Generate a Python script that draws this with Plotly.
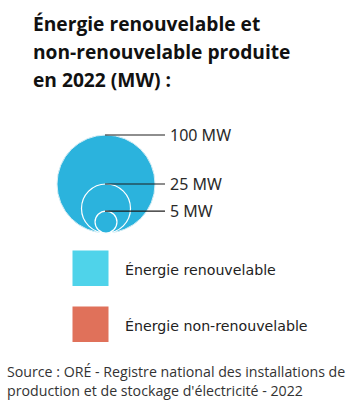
import math
import plotly.graph_objects as go

# Size legend: reference capacities (MW)
size_values = [100, 25, 5]
size_labels = ["100 MW", "25 MW", "5 MW"]

# Colour legend
legend_names = ["Énergie renouvelable", "Énergie non-renouvelable"]
legend_colors = ["#4FD3EA", "#E0715A"]

title_lines = [
    "Énergie renouvelable et",
    "non-renouvelable produite",
    "en 2022 (MW) :",
]
source_lines = [
    "Source : ORÉ - Registre national des installations de",
    "production et de stockage d'électricité - 2022",
]

W, H = 353, 404
CIRCLE_COLOR = "#2BB3DD"
R_MAX = 49.0
CX, BOTTOM = 106.0, 233.0
LINE_END_X = 165.0

fig = go.Figure()
shapes = []
annotations = []

# Nested circles, area proportional to capacity, all touching the same bottom
vmax = max(size_values)
for i, (v, lab) in enumerate(zip(size_values, size_labels)):
    r = R_MAX * math.sqrt(v / vmax)
    cy = BOTTOM - r
    shapes.append(dict(
        type="circle", xref="x", yref="y",
        x0=CX - r, x1=CX + r, y0=cy - r, y1=cy + r,
        fillcolor=CIRCLE_COLOR,
        line=dict(color="#D8EEF5" if i == 0 else "white", width=1 if i == 0 else 1.2),
        layer="above",
    ))
    top = cy - r
    shapes.append(dict(
        type="line", xref="x", yref="y",
        x0=CX - 1, x1=LINE_END_X, y0=top, y1=top,
        line=dict(color="#1E1E1E", width=1.2), layer="above",
    ))
    annotations.append(dict(
        x=LINE_END_X + 3, y=top, xref="x", yref="y", text=lab,
        showarrow=False, xanchor="left", yanchor="middle",
        font=dict(family="Noto Sans", size=16, color="#2A2A2A"),
    ))

# Colour legend squares and labels
legend_y = [268.3, 324.2]
for name, col, y in zip(legend_names, legend_colors, legend_y):
    shapes.append(dict(
        type="rect", xref="x", yref="y",
        x0=72.5, x1=108.5, y0=y - 17.8, y1=y + 17.8,
        fillcolor=col, line=dict(width=0), layer="above",
    ))
    annotations.append(dict(
        x=123, y=y + 1.5, xref="x", yref="y", text=name,
        showarrow=False, xanchor="left", yanchor="middle",
        font=dict(family="DejaVu Sans", size=14.2, color="#222222"),
    ))

# Title, one annotation per line for a fixed line spacing
for i, t in enumerate(title_lines):
    annotations.append(dict(
        x=31, y=23 + 28 * i, xref="x", yref="y", text="<b>" + t + "</b>",
        showarrow=False, xanchor="left", yanchor="middle",
        font=dict(family="Open Sans", size=19.2, color="#111111"),
    ))

# Source note
for i, t in enumerate(source_lines):
    annotations.append(dict(
        x=5, y=371 + 19 * i, xref="x", yref="y", text=t,
        showarrow=False, xanchor="left", yanchor="middle",
        font=dict(family="Open Sans", size=14.2, color="#333333"),
    ))

fig.add_trace(go.Scatter(x=[0], y=[0], mode="markers",
                         marker=dict(opacity=0), hoverinfo="skip", showlegend=False))

fig.update_layout(
    width=W, height=H, autosize=False,
    margin=dict(l=0, r=0, t=0, b=0),
    paper_bgcolor="white", plot_bgcolor="white",
    xaxis=dict(range=[0, W], visible=False, fixedrange=True),
    yaxis=dict(range=[H, 0], visible=False, fixedrange=True),
    shapes=shapes, annotations=annotations,
    showlegend=False,
)

fig.write_html("out.html", config=dict(displayModeBar=False))
